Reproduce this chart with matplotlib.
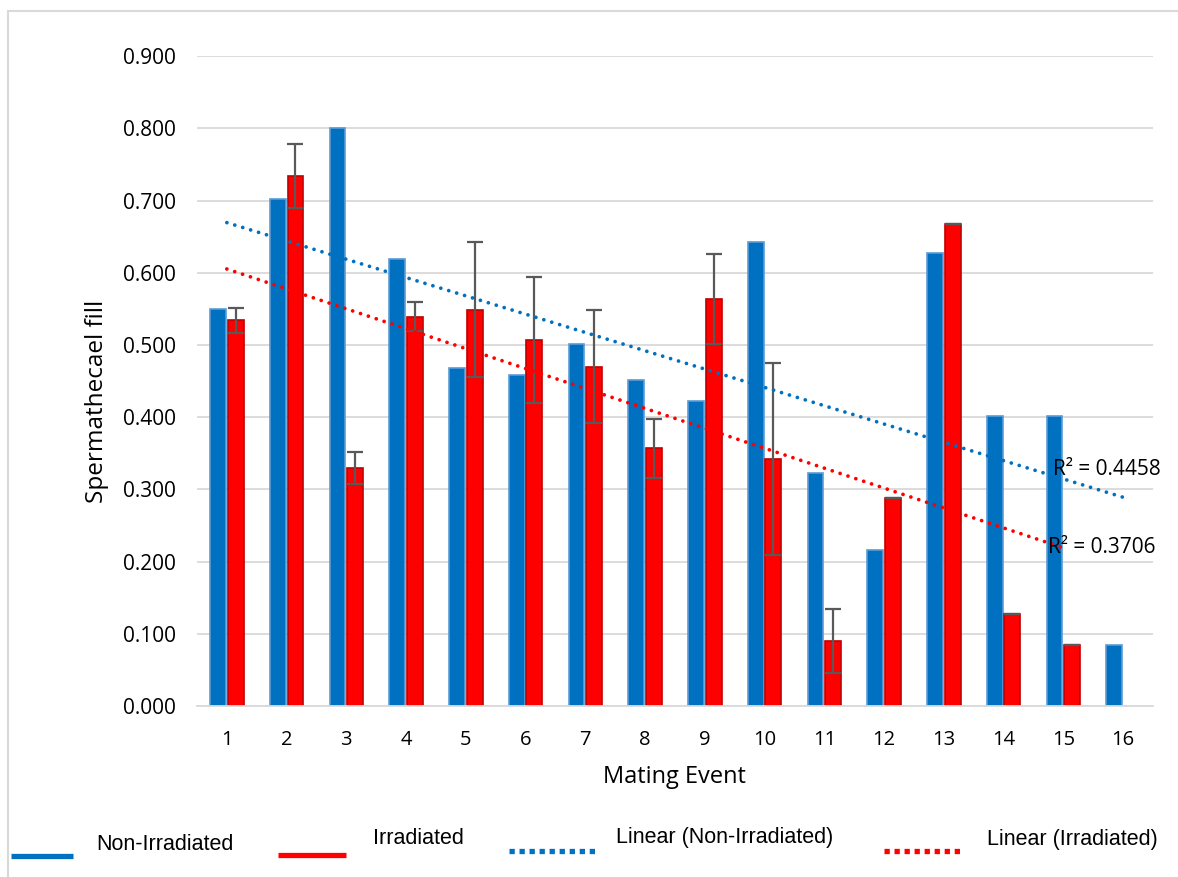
import numpy as np
import matplotlib.pyplot as plt
from matplotlib.lines import Line2D
from matplotlib.patches import Rectangle

# mating events and mean spermathecal fill per group
events = np.arange(1, 17)
non_irr = [0.550, 0.702, 0.800, 0.619, 0.468, 0.458, 0.501, 0.451,
           0.423, 0.643, 0.322, 0.216, 0.627, 0.402, 0.402, 0.084]
irr = [0.534, 0.734, 0.330, 0.539, 0.549, 0.507, 0.470, 0.357,
       0.564, 0.342, 0.090, 0.288, 0.667, 0.127, 0.084]
irr_err = [0.017, 0.044, 0.022, 0.020, 0.093, 0.087, 0.078, 0.041,
           0.062, 0.133, 0.045, 0.0, 0.0, 0.0, 0.0]
r2_labels = ["R² = 0.4458", "R² = 0.3706"]

BLUE = "#0070C0"
RED = "#FF0000"
FONT = "Open Sans"

fig = plt.figure(figsize=(11.78, 8.77), dpi=100)
ax = fig.add_axes([0.1672, 0.195, 0.8115, 0.741])

x_irr = events[:len(irr)]
w = 0.265
off = 0.148
ax.bar(events - off, non_irr, w, color=BLUE, edgecolor="#5B9BD5", lw=1.2, zorder=2)
ax.bar(x_irr + off, irr, w, color=RED, edgecolor="#C00000", lw=1.2, zorder=2)
ax.errorbar(x_irr + off, irr, yerr=irr_err, fmt="none", ecolor="#595959",
            elinewidth=1.6, capsize=5.5, capthick=1.6, zorder=3)

# linear trendlines, round dots
for xs, ys, col in [(events, non_irr, BLUE), (x_irr, irr, RED)]:
    k, b = np.polyfit(xs, ys, 1)
    ax.plot(xs, k * xs + b, color=col, lw=2.7, linestyle=(0, (0.01, 2.2)),
            dash_capstyle="round", zorder=4)

ax.text(14.82, 0.327, r2_labels[0], fontsize=15, family=FONT,
        va="center", clip_on=False, zorder=5)
ax.text(14.75, 0.220, r2_labels[1], fontsize=15, family=FONT,
        va="center", clip_on=False, zorder=5)

ax.set_xlim(0.5, 16.5)
ax.set_ylim(0, 0.9)
yt = np.arange(0, 0.91, 0.1)
ax.set_yticks(yt)
ax.set_yticklabels([f"{v:.3f}" for v in yt])
ax.set_xticks(events)
ax.tick_params(axis="x", length=0, labelsize=14.5, pad=17)
ax.tick_params(axis="y", length=0, labelsize=15, pad=15)
for lab in ax.get_xticklabels() + ax.get_yticklabels():
    lab.set_family(FONT)
ax.grid(axis="y", color="#D9D9D9", lw=1.3, zorder=0)
for s in ["top", "right", "left"]:
    ax.spines[s].set_visible(False)
ax.spines["bottom"].set_color("#D9D9D9")
ax.spines["bottom"].set_linewidth(1.3)

ax.set_xlabel("Mating Event", fontsize=17, family=FONT, va="center")
ax.set_ylabel("Spermathecael fill", fontsize=17.5, family=FONT, va="center")
ax.xaxis.set_label_coords(0.5, -0.11)
ax.yaxis.set_label_coords(-0.1046, 0.469)

# chart border
fig.patches.append(Rectangle((0.0068, -0.05), 1.2, 0.9875 + 0.05,
                             transform=fig.transFigure, fill=False,
                             edgecolor="#D9D9D9", lw=1.5))

# legend along the bottom
H = 877.0
W = 1178.0
items = [
    ("Non-Irradiated", BLUE, "-", (11, 73, 856), (96, 845)),
    ("Irradiated", RED, "-", (278, 346, 855), (373, 838)),
    ("Linear (Non-Irradiated)", BLUE, (0, (1.0, 0.9)), (509, 598, 851), (616, 837)),
    ("Linear (Irradiated)", RED, (0, (1.0, 0.9)), (884, 964, 851), (987, 839)),
]
for label, col, ls, (x0, x1, yl), (tx, ty) in items:
    fig.add_artist(Line2D([x0 / W, x1 / W], [1 - yl / H, 1 - yl / H],
                          transform=fig.transFigure, color=col, lw=3.8,
                          linestyle=ls, solid_capstyle="butt", dash_capstyle="butt"))
    fig.text(tx / W, 1 - ty / H, label, fontsize=15.5, family="Liberation Sans",
             va="center", ha="left")

fig.savefig("out.png", dpi=100)
